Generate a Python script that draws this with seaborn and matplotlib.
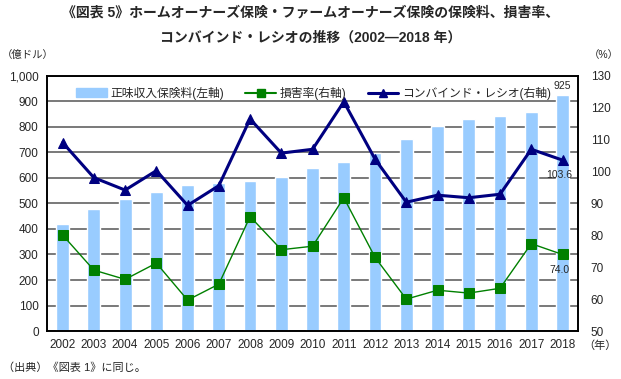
import numpy as np
import pandas as pd
import matplotlib
matplotlib.use("Agg")
import matplotlib.pyplot as plt
import seaborn as sns
from matplotlib.lines import Line2D
from matplotlib.patches import Patch

years = [str(y) for y in range(2002, 2019)]
premiums = [418, 477, 517, 546, 572, 579, 588, 603, 640, 664, 699, 753, 804, 831, 842, 860, 925]
loss_ratio = [80.1, 69.1, 66.2, 71.3, 59.7, 64.7, 85.9, 75.5, 76.6, 91.8, 73.1, 60.0, 62.8, 61.9, 63.4, 77.4, 74.0]
combined_ratio = [109.1, 98.1, 94.2, 100.3, 89.4, 95.6, 116.5, 105.8, 107.0, 121.9, 103.9, 90.4, 92.6, 91.8, 92.9, 107.0, 103.6]

df = pd.DataFrame({"year": years, "premium": premiums,
                   "loss": loss_ratio, "combined": combined_ratio})
df["pos"] = np.arange(len(df))

sns.set_style("white")
plt.rcParams["font.family"] = ["Liberation Sans", "Noto Sans CJK JP", "DejaVu Sans"]

bar_c = "#99CCFF"
loss_c = "#008000"
comb_c = "#000080"

fig = plt.figure(figsize=(6.21, 3.79), dpi=100)
ax = fig.add_axes([0.0757, 0.1266, 0.8553, 0.673])

sns.barplot(data=df, x="year", y="premium", color=bar_c, width=0.41,
            saturation=1, ax=ax, zorder=2)
ax.set_ylim(0, 1000)
ax.set_xlim(-0.5, len(df) - 0.5)
ax.set_yticks(range(0, 1001, 100))
ax.set_yticklabels([f"{v:,}" for v in range(0, 1001, 100)])
ax.grid(axis="y", color="#555555", lw=1.1, zorder=0)
ax.set_axisbelow(True)
ax.set_xlabel("")
ax.set_ylabel("")
ax.tick_params(axis="both", length=0, labelsize=8.5, pad=6)

ax2 = ax.twinx()
sns.lineplot(data=df, x="pos", y="loss", color=loss_c, lw=1.0, marker="s",
             markersize=6.5, markeredgecolor=loss_c, ax=ax2)
sns.lineplot(data=df, x="pos", y="combined", color=comb_c, lw=2.2, marker="^",
             markersize=7, markeredgecolor=comb_c, ax=ax2)
ax2.set_ylim(50, 130)
ax2.set_yticks(range(50, 131, 10))
ax2.set_ylabel("")
ax2.set_xlabel("")
ax2.tick_params(axis="y", length=0, labelsize=8.5, pad=9)

for a in (ax, ax2):
    for s in a.spines.values():
        s.set_color("black")
        s.set_linewidth(1.2)

last = len(df) - 1
ax.text(last, premiums[-1] + 15, f"{premiums[-1]:,}", ha="center", va="bottom", fontsize=7.5)
ax2.text(last - 0.1, combined_ratio[-1] - 3.2, f"{combined_ratio[-1]:.1f}", ha="center", va="top", fontsize=7.5)
ax2.text(last - 0.1, loss_ratio[-1] - 3.2, f"{loss_ratio[-1]:.1f}", ha="center", va="top", fontsize=7.5)

handles = [Patch(color=bar_c),
           Line2D([], [], color=loss_c, lw=1.5, marker="s", markersize=6),
           Line2D([], [], color=comb_c, lw=2.2, marker="^", markersize=6)]
labels = ["正味収入保険料(左軸)", "損害率(右軸)", "コンバインド・レシオ(右軸)"]
ax2.legend(handles, labels, loc="upper left", bbox_to_anchor=(0.035, 1.0), ncol=3,
           frameon=False, fontsize=8.5, handlelength=2.6, columnspacing=1.8,
           handletextpad=0.3)

fig.text(0.5, 0.966, "《図表 5》ホームオーナーズ保険・ファームオーナーズ保険の保険料、損害率、",
         ha="center", va="center", fontsize=10, fontweight="bold")
fig.text(0.5, 0.9, "コンバインド・レシオの推移（2002―2018 年）",
         ha="center", va="center", fontsize=10, fontweight="bold")
fig.text(0.003, 0.855, "（億ドル）", ha="left", va="center", fontsize=7.5)
fig.text(0.997, 0.855, "（%）", ha="right", va="center", fontsize=7.5)
fig.text(0.94, 0.088, "（年）", ha="left", va="center", fontsize=8)
fig.text(0.005, 0.03, "（出典）《図表 1》に同じ。", ha="left", va="center", fontsize=8)

fig.savefig("out.png", dpi=100)
